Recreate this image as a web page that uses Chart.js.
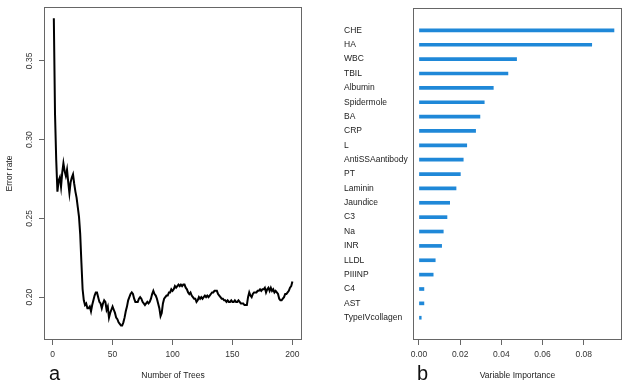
<!DOCTYPE html>
<html>
<head>
<meta charset="utf-8">
<script src="https://cdn.jsdelivr.net/npm/chart.js@4"></script>
<style>
  body { margin: 0; background: #fff; width: 627px; height: 389px; position: relative; overflow: hidden;
         font-family: "Liberation Sans", Arial, sans-serif; }
  #left { position: absolute; left: 0; top: 0; }
  #right { position: absolute; left: 310px; top: 0; }
  .tag { position: absolute; font-size: 20px; color: #111; line-height: 23px; }
</style>
</head>
<body>
<canvas id="left" width="310" height="389"></canvas>
<canvas id="right" width="317" height="389"></canvas>
<div class="tag" style="left:49px;top:362px">a</div>
<div class="tag" style="left:417px;top:362px">b</div>
<script>
// panel a: OOB error rate by number of trees (trees 1..200)
const errorRate = [
  0.377, 0.316, 0.287, 0.267, 0.274, 0.276, 0.270, 0.279, 0.285, 0.280,
  0.277, 0.281, 0.273, 0.266, 0.273, 0.276, 0.278, 0.272, 0.267, 0.263,
  0.257, 0.251, 0.240, 0.222, 0.205, 0.198, 0.195, 0.196, 0.193, 0.193,
  0.194, 0.191, 0.195, 0.198, 0.201, 0.203, 0.203, 0.200, 0.197, 0.196,
  0.193, 0.196, 0.198, 0.197, 0.192, 0.194, 0.187, 0.190, 0.192, 0.194,
  0.192, 0.190, 0.187, 0.186, 0.184, 0.183, 0.182, 0.182, 0.184, 0.187,
  0.191, 0.194, 0.198, 0.200, 0.202, 0.203, 0.202, 0.199, 0.197, 0.197,
  0.197, 0.199, 0.200, 0.199, 0.197, 0.196, 0.195, 0.196, 0.197, 0.196,
  0.197, 0.199, 0.202, 0.204, 0.202, 0.201, 0.199, 0.196, 0.193, 0.188,
  0.190, 0.196, 0.199, 0.200, 0.201, 0.201, 0.203, 0.203, 0.205, 0.204,
  0.205, 0.207, 0.206, 0.207, 0.208, 0.207, 0.208, 0.207, 0.208, 0.208,
  0.206, 0.205, 0.203, 0.202, 0.203, 0.201, 0.200, 0.199, 0.199, 0.197,
  0.198, 0.200, 0.199, 0.200, 0.199, 0.200, 0.201, 0.200, 0.201, 0.200,
  0.201, 0.202, 0.203, 0.203, 0.204, 0.204, 0.204, 0.202, 0.201, 0.200,
  0.199, 0.199, 0.198, 0.198, 0.197, 0.198, 0.197, 0.197, 0.198, 0.197,
  0.197, 0.198, 0.197, 0.197, 0.198, 0.197, 0.196, 0.196, 0.196, 0.195,
  0.195, 0.195, 0.200, 0.203, 0.201, 0.200, 0.202, 0.203, 0.203, 0.203,
  0.204, 0.204, 0.205, 0.204, 0.205, 0.205, 0.206, 0.203, 0.205, 0.206,
  0.204, 0.206, 0.204, 0.205, 0.203, 0.204, 0.203, 0.202, 0.199, 0.198,
  0.198, 0.199, 0.200, 0.202, 0.202, 0.203, 0.204, 0.206, 0.207, 0.210
];
const treeTicks = [0, 50, 100, 150, 200];
const errorTicks = [0.20, 0.25, 0.30, 0.35];

// panel b: variable importance
const variables = ["CHE", "HA", "WBC", "TBIL", "Albumin", "Spidermole", "BA", "CRP", "L",
  "AntiSSAantibody", "PT", "Laminin", "Jaundice", "C3", "Na", "INR", "LLDL", "PIIINP",
  "C4", "AST", "TypeIVcollagen"];
const importance = [0.0947, 0.0839, 0.0474, 0.0432, 0.0361, 0.0317, 0.0296, 0.0275, 0.0232,
  0.0215, 0.0201, 0.0180, 0.0149, 0.0136, 0.0118, 0.0110, 0.0079, 0.0069,
  0.0024, 0.0024, 0.0011];
const importanceTicks = [0, 0.02, 0.04, 0.06, 0.08];

Chart.defaults.font.family = '"Liberation Sans", Arial, sans-serif';
Chart.defaults.font.size = 8.5;
Chart.defaults.color = '#222';

// R style box round the plot region
const boxPlugin = {
  id: 'box',
  afterDraw(chart) {
    const { ctx, chartArea: a } = chart;
    ctx.save();
    ctx.strokeStyle = '#666';
    ctx.lineWidth = 1;
    ctx.strokeRect(Math.round(a.left) + 0.5, Math.round(a.top) + 0.5,
      Math.round(a.right - a.left) - 1, Math.round(a.bottom - a.top) - 1);
    ctx.restore();
  }
};

const tickGrid = { drawOnChartArea: false, tickLength: 5, color: '#666' };

new Chart(document.getElementById('left'), {
  type: 'line',
  data: {
    datasets: [{
      data: errorRate.map((v, i) => ({ x: i + 1, y: v })),
      borderColor: '#000',
      borderWidth: 2,
      pointRadius: 0,
      tension: 0
    }]
  },
  options: {
    responsive: false,
    animation: false,
    layout: { padding: { left: 0, right: 8, top: 7, bottom: 0 } },
    plugins: { legend: { display: false }, tooltip: { enabled: false } },
    scales: {
      x: {
        type: 'linear', min: -7.2, max: 208,
        afterBuildTicks: axis => { axis.ticks = treeTicks.map(v => ({ value: v })); },
        afterFit: axis => { axis.height = 49; },
        ticks: { padding: 5, color: '#333' },
        grid: tickGrid,
        border: { display: false },
        title: { display: true, text: 'Number of Trees', color: '#222', padding: { top: 0, bottom: 8 } }
      },
      y: {
        type: 'linear', min: 0.1728, max: 0.3842,
        afterBuildTicks: axis => { axis.ticks = errorTicks.map(v => ({ value: v })); },
        afterFit: axis => { axis.width = 44; },
        ticks: { minRotation: 90, maxRotation: 90, crossAlign: 'center', padding: 1, color: '#333',
                 callback: v => v.toFixed(2) },
        grid: tickGrid,
        border: { display: false },
        title: { display: true, text: 'Error rate', color: '#222', padding: { top: 5, bottom: 0 } }
      }
    }
  },
  plugins: [boxPlugin]
});

new Chart(document.getElementById('right'), {
  type: 'bar',
  data: {
    datasets: [{
      data: importance.map((v, i) => ({ x: v, y: i + 1 })),
      backgroundColor: '#1f88d8',
      barThickness: 3
    }]
  },
  options: {
    indexAxis: 'y',
    responsive: false,
    animation: false,
    layout: { padding: { left: 34, right: 5, top: 7, bottom: 0 } },
    plugins: { legend: { display: false }, tooltip: { enabled: false } },
    scales: {
      x: {
        type: 'linear', min: -0.0029, max: 0.0986,
        afterBuildTicks: axis => { axis.ticks = importanceTicks.map(v => ({ value: v })); },
        afterFit: axis => { axis.height = 49; },
        ticks: { padding: 5, color: '#333', callback: v => v.toFixed(2) },
        grid: tickGrid,
        border: { display: false },
        title: { display: true, text: 'Variable Importance', color: '#222', padding: { top: 0, bottom: 8 } }
      },
      y: {
        type: 'linear', reverse: true, min: 0, max: variables.length + 1,
        afterBuildTicks: axis => { axis.ticks = variables.map((_, i) => ({ value: i + 1 })); },
        afterFit: axis => { axis.width = 69; },
        ticks: { crossAlign: 'far', autoSkip: false, color: '#222', callback: v => variables[v - 1] },
        grid: { display: false },
        border: { display: false }
      }
    }
  },
  plugins: [boxPlugin]
});
</script>
</body>
</html>
